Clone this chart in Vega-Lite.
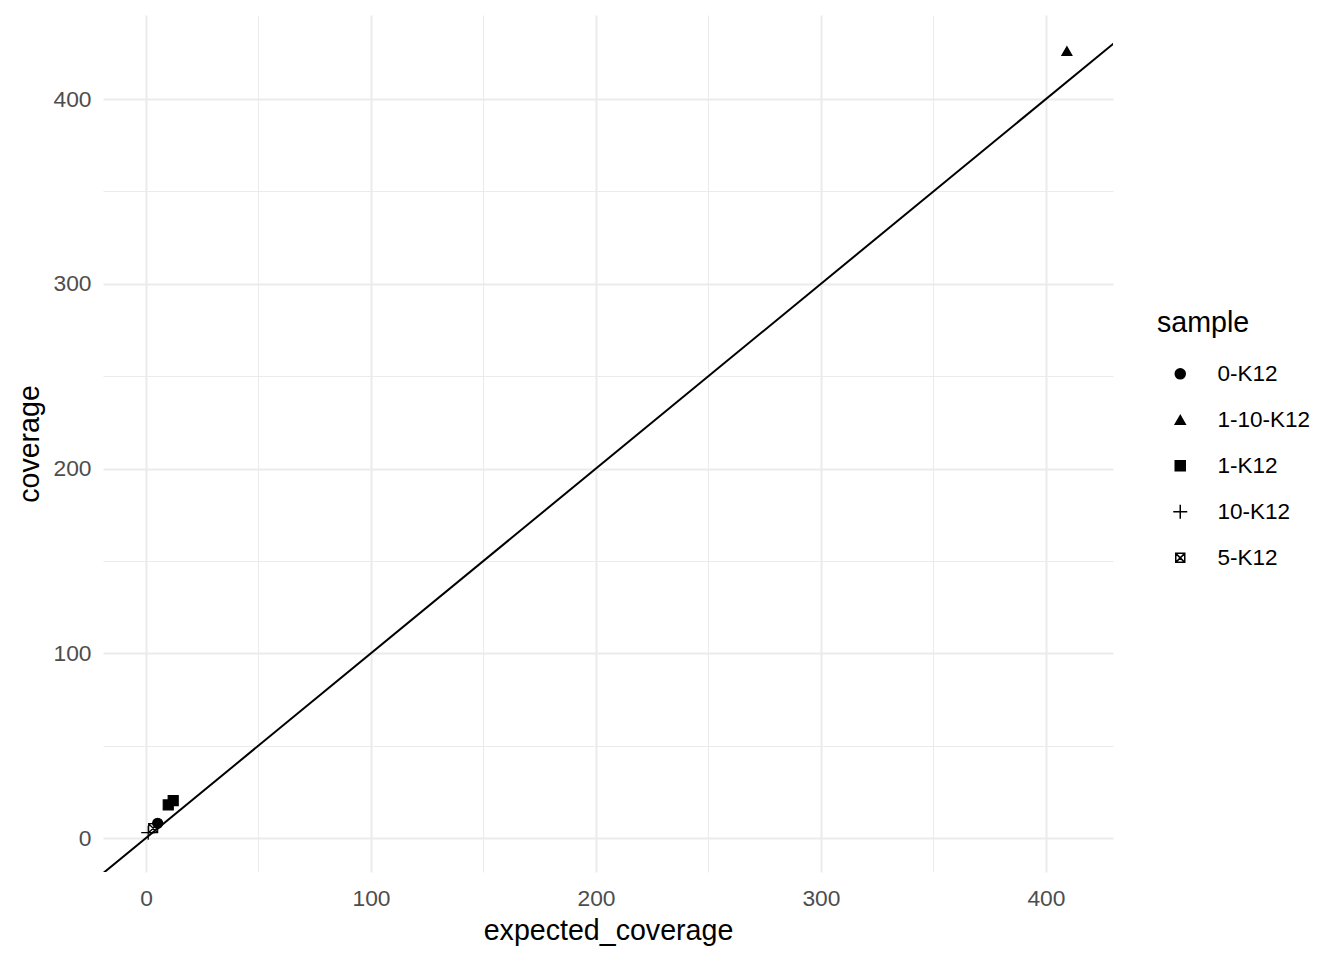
{
  "$schema": "https://vega.github.io/schema/vega-lite/v6.json",
  "autosize": "none",
  "width": 1010,
  "height": 857,
  "padding": {"left": 103, "top": 15, "right": 231, "bottom": 88},
  "background": "white",
  "config": {
    "view": {"stroke": null},
    "font": "Liberation Sans",
    "axis": {
      "domain": false,
      "ticks": false,
      "gridColor": "#EBEBEB",
      "labelColor": "#4D4D4D",
      "labelFontSize": 22.8,
      "titleFontSize": 28.6,
      "titleFontWeight": "normal",
      "titleColor": "black"
    }
  },
  "layer": [
    {
      "data": {"values": [{"x": -25, "y": -25}, {"x": 440, "y": 440}]},
      "mark": {"type": "line", "color": "black", "strokeWidth": 2, "clip": true},
      "encoding": {
        "x": {
          "field": "x", "type": "quantitative",
          "scale": {"domain": [-19.1, 429.8], "nice": false, "zero": false},
          "axis": {
            "values": [0, 50, 100, 150, 200, 250, 300, 350, 400],
            "labelExpr": "datum.value % 100 === 0 ? datum.label : ''",
            "gridWidth": {"condition": {"test": "datum.value % 100 === 0", "value": 2}, "value": 1},
            "title": "expected_coverage",
            "labelPadding": 15,
            "titlePadding": 7
          }
        },
        "y": {
          "field": "y", "type": "quantitative",
          "scale": {"domain": [-18.4, 445.5], "nice": false, "zero": false},
          "axis": {
            "values": [0, 50, 100, 150, 200, 250, 300, 350, 400],
            "labelExpr": "datum.value % 100 === 0 ? datum.label : ''",
            "gridWidth": {"condition": {"test": "datum.value % 100 === 0", "value": 2}, "value": 1},
            "title": "coverage",
            "labelPadding": 12,
            "titlePadding": 8
          }
        }
      }
    },
    {
      "data": {"values": [
        {"sample": "0-K12", "expected_coverage": 5.2, "coverage": 8.0},
        {"sample": "1-10-K12", "expected_coverage": 409.3, "coverage": 426.0},
        {"sample": "1-K12", "expected_coverage": 9.9, "coverage": 17.9},
        {"sample": "1-K12", "expected_coverage": 12.1, "coverage": 20.2},
        {"sample": "10-K12", "expected_coverage": 1.0, "coverage": 2.9},
        {"sample": "5-K12", "expected_coverage": 3.2, "coverage": 5.3}
      ]},
      "mark": {"type": "point", "filled": false, "stroke": "black", "strokeWidth": 1.2, "size": 100, "opacity": 1},
      "encoding": {
        "x": {"field": "expected_coverage", "type": "quantitative"},
        "y": {"field": "coverage", "type": "quantitative"},
        "shape": {
          "field": "sample", "type": "nominal",
          "scale": {
            "domain": ["0-K12", "1-10-K12", "1-K12", "10-K12", "5-K12"],
            "range": ["circle", "triangle-up", "square", "M-1.4,0H1.4M0,-1.4V1.4", "M-0.9,-0.9H0.9V0.9H-0.9ZM-0.9,-0.9L0.9,0.9M-0.9,0.9L0.9,-0.9"]
          },
          "legend": {
            "title": "sample",
            "orient": "none",
            "legendX": 1054,
            "legendY": 294,
            "titleFontSize": 28.6,
            "titleFontWeight": "normal",
            "titleColor": "black",
            "titlePadding": 25,
            "labelFontSize": 22.5,
            "labelColor": "black",
            "labelOffset": 26,
            "symbolOffset": 12,
            "rowPadding": 23,
            "encode": {"symbols": {"update": {"stroke": {"value": "black"}, "strokeWidth": {"value": 1.2}}}}
          }
        },
        "fill": {
          "field": "sample", "type": "nominal",
          "scale": {
            "domain": ["0-K12", "1-10-K12", "1-K12", "10-K12", "5-K12"],
            "range": ["black", "black", "black", "transparent", "transparent"]
          },
          "legend": {
            "title": "sample",
            "orient": "none",
            "legendX": 1054,
            "legendY": 294,
            "titleFontSize": 28.6,
            "titleFontWeight": "normal",
            "titleColor": "black",
            "titlePadding": 25,
            "labelFontSize": 22.5,
            "labelColor": "black",
            "labelOffset": 26,
            "symbolOffset": 12,
            "rowPadding": 23,
            "encode": {"symbols": {"update": {"stroke": {"value": "black"}, "strokeWidth": {"value": 1.2}}}}
          }
        }
      }
    }
  ]
}
